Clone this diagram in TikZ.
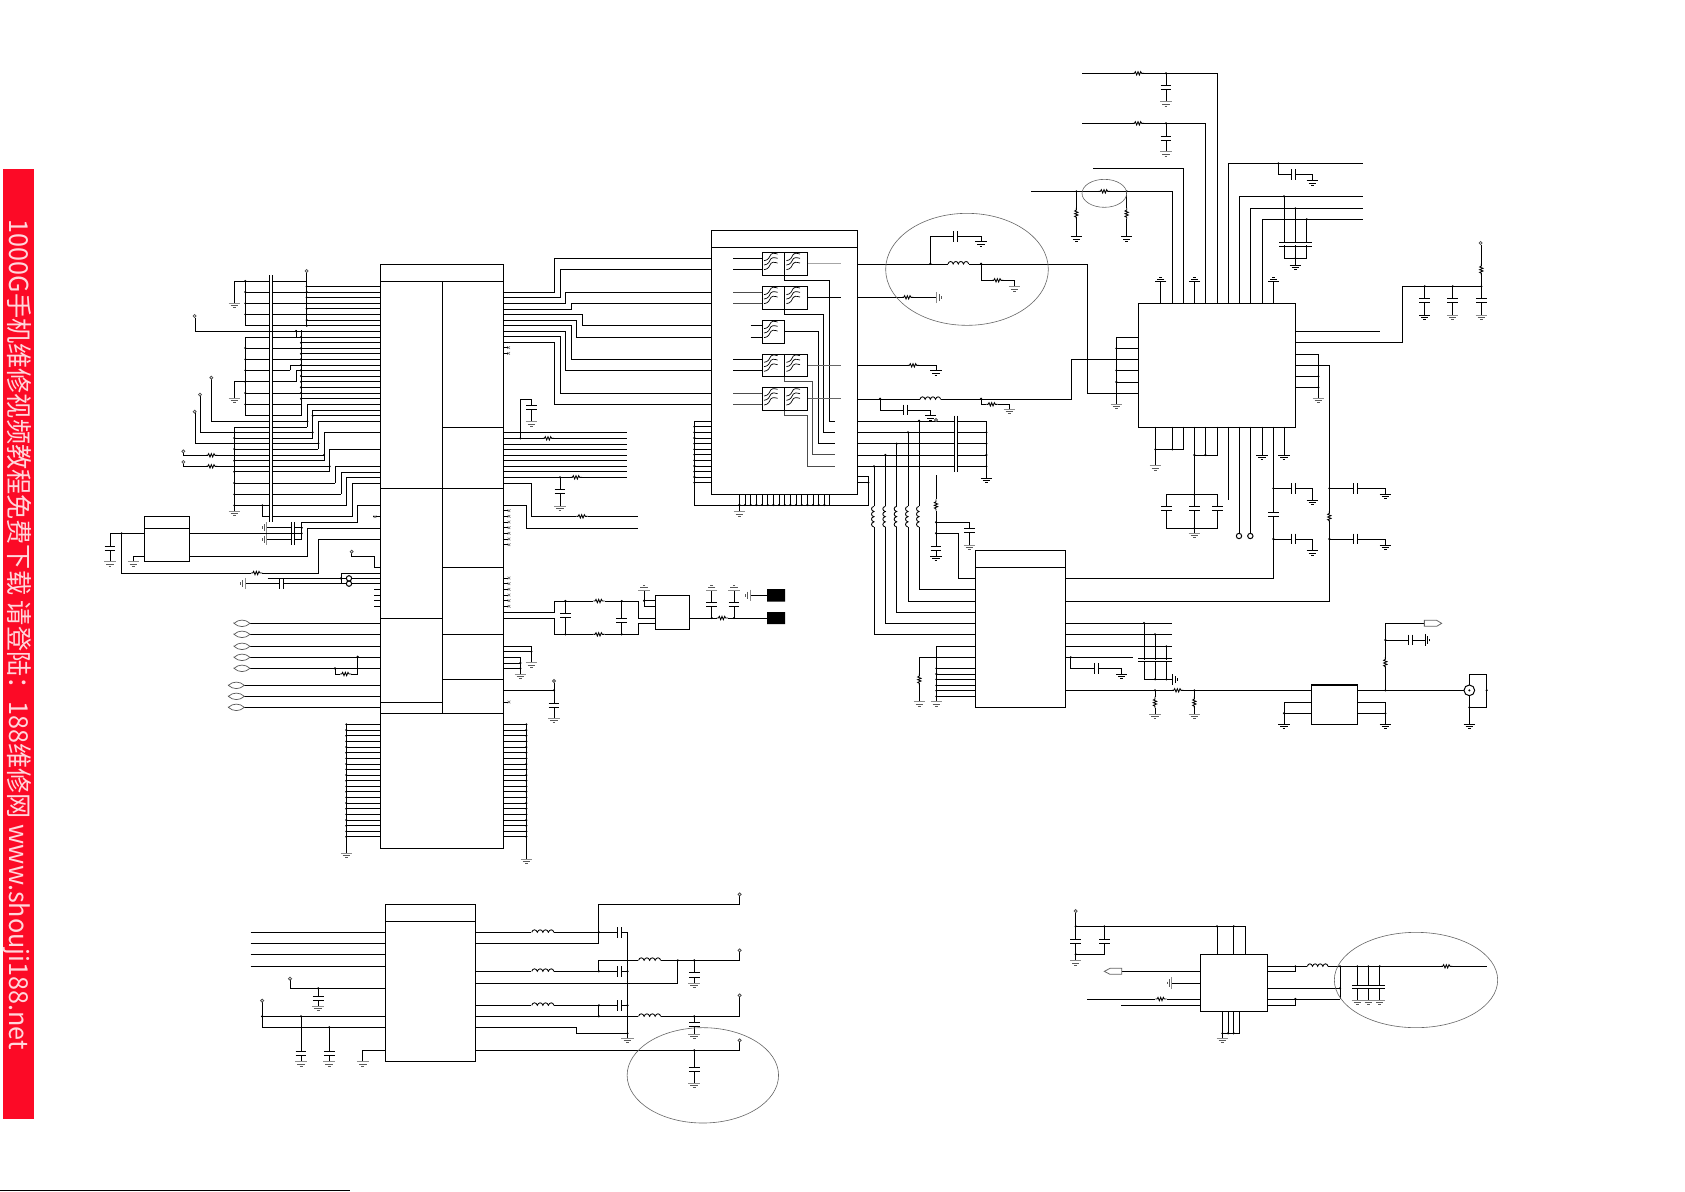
\documentclass[tikz,border=0pt]{standalone}
\usepackage{graphicx}
\usepackage{fontspec}
\newfontfamily\cjkfam{Noto Sans CJK SC}
\definecolor{bannerred}{RGB}{252,10,38}
\definecolor{bannertext}{RGB}{255,215,220}
\tikzset{
 w/.style={line width=1pt,black},
 thinw/.style={line width=0.85pt,black},
 zm/.style 2 args={shift={(#1,#2)},scale=0.33333},
 chip/.style={draw,line width=1pt,fill=white,inner sep=0pt,outer sep=0pt,anchor=north west},
 halo/.style={line width=0.6pt,black!60}
}
% all component macros are sized in the 3x units of the scopes
\newcommand\Gd[3][0]{\draw[w,shift={(#2,#3)},rotate=#1] (-17,0)--(17,0) (-11,7)--(11,7) (-4,13)--(4,13);}
\newcommand\Gy[3][0]{\draw[line width=1pt,shift={(#2,#3)},rotate=#1,black!45] (-17,0)--(17,0);
 \draw[line width=0.9pt,shift={(#2,#3)},rotate=#1,black!65] (-11,7)--(11,7) (-4,13)--(4,13);}
\newcommand\Rs[3][0]{\fill[white,shift={(#2,#3)},rotate=#1] (-17,-6) rectangle (17,6);
 \draw[thinw,shift={(#2,#3)},rotate=#1] (-17,0)--(-12,0)--(-9,-5)--(-5,5)--(-1,-5)--(3,5)--(7,-5)--(10,0)--(17,0);}
\newcommand\Ld[3][0]{\fill[white,shift={(#2,#3)},rotate=#1] (-32,-9) rectangle (32,2);
 \draw[thinw,shift={(#2,#3)},rotate=#1] (-31,0) .. controls (-29,-10) and (-18,-10) .. (-15.5,0) .. controls (-13,-10) and (-2,-10) .. (0,0) .. controls (2,-10) and (13,-10) .. (15.5,0) .. controls (18,-10) and (29,-10) .. (31,0);}
\newcommand\Cp[3][0]{\fill[white,shift={(#2,#3)},rotate=#1] (-5.5,-4) rectangle (5.5,4);
 \draw[w,shift={(#2,#3)},rotate=#1] (-6,-16)--(-6,16) (6,-16)--(6,16);}
\newcommand\Dt[2]{\fill (#1,#2) circle[radius=3.5];}
\newcommand\Pc[2]{\draw[line width=0.8pt,black!70,fill=white] (#1,#2) circle[radius=4.5];}
\newcommand\Xm[2]{\draw[w] (#1,#2)--++(14,0);\draw[line width=0.5pt,black!60] (#1+12,#2-4)--++(8,8) (#1+12,#2+4)--++(8,-8);}
\newcommand\Bw[3]{\draw[w] (#1,#2)--(508,#2) (517,#2)--(#3,#2);}
\newcommand\Ov[2]{\draw[line width=0.7pt,black!65] (#1-24,#2) .. controls (#1-10,#2-13) and (#1+10,#2-13) .. (#1+24,#2) .. controls (#1+10,#2+13) and (#1-10,#2+13) .. cycle;}
\newcommand\Fb[2]{\begin{scope}[shift={(#1,#2)}]
 \draw[w,fill=white] (0,0) rectangle (67,68);
 \foreach \d in {0,13,27}{\draw[line width=0.7pt] (5,25+\d) .. controls (18,24+\d) and (22,14+\d) .. (26,6+\d) .. controls (28,2+\d) and (34,2+\d) .. (46,5+\d);}
 \end{scope}}
\begin{document}
\begin{tikzpicture}[x=1pt,y=-1pt]
\fill[white] (0,0) rectangle (1685,1191);
\useasboundingbox (0,0) rectangle (1685,1191);
% banner
\fill[bannerred] (3,169) rectangle (34,1119);
\node[rotate=-90,inner sep=0pt,text=bannertext] (banner) at (17.5,635) {\resizebox{830pt}{22pt}{\cjkfam 1000G手机维修视频教程免费下载 请登陆：188维修网 www.shouji188.net}};
\draw[line width=1pt] (0,1190)--(350,1190);
% chips
\node[chip,minimum width=123.4pt,minimum height=584pt] (mainchip) at (380.3,264.3) {};
\node[chip,minimum width=45.4pt,minimum height=45.4pt] (regchip) at (144.3,516.3) {};
\node[chip,minimum width=146pt,minimum height=264pt] (filterchip) at (711.3,230.3) {};
\node[chip,minimum width=157pt,minimum height=124pt] (qfnchip) at (1138.3,303.3) {};
\node[chip,minimum width=90pt,minimum height=157pt] (vcochip) at (975.3,550.3) {};
\node[chip,minimum width=90.4pt,minimum height=157pt] (pmchip) at (385.4,904.3) {};
\node[chip,minimum width=67pt,minimum height=56.7pt] (ldochip) at (1200.3,954.3) {};
\node[chip,minimum width=34.4pt,minimum height=34pt] (balunchip) at (655.3,595.3) {};
\node[chip,line width=1.5pt,minimum width=45.6pt,minimum height=39.3pt] (pachip) at (1311.7,685) {};
\draw[w] (380.3,281.3)--(503.7,281.3) (442.3,281.3)--(442.3,713.3)
 (442.3,427.3)--(503.7,427.3) (380.3,488.7)--(503.7,488.7) (442.3,567.3)--(503.7,567.3)
 (380.3,618.3)--(442.3,618.3) (442.3,634.3)--(503.7,634.3) (442.3,679.3)--(503.7,679.3)
 (380.3,702.3)--(442.3,702.3) (380.3,713.3)--(503.7,713.3);
\draw[w] (144.3,528.3)--(189.7,528.3) (711.3,247.3)--(857.3,247.3) (975.3,567.3)--(1065.3,567.3) (385.4,921.3)--(475.8,921.3);
% ---------------- left side of main chip
\begin{scope}[zm={100}{250}]
 \foreach \y in {109,126,142,160,176,193,210,227}{\draw[w] (620,\y)--(841,\y);\Dt{620}{\y}}
 \foreach \y in {93,126,160,193,226}{\Bw{436}{\y}{620}}
 \foreach \y in {93,126,160,193}{\Dt{436}{\y}}
 \draw[w] (403,160)--(403,93)--(436,93) (436,93)--(436,226) (620,67)--(620,227);
 \Pc{620}{63}\Gy{403}{160}
 \draw[w] (508,75)--(508,815) (517,75)--(517,815);
 \draw[w] (285,203)--(285,244)--(841,244) (588,241)--(588,261); \Dt{588}{243}\Pc{284}{198}
 \draw[w] (436,261)--(436,497) (603,241)--(603,497);
 \foreach \y in {261,294,328,429,463,497}{\Bw{436}{\y}{603}}
 \Bw{436}{361}{571}\draw[w] (571,361)--(571,345)--(603,345);
 \Bw{436}{395}{588}\draw[w] (588,395)--(588,361)--(603,361);
 \foreach \y in {294,328,361,395,429,463}{\Dt{436}{\y}}
 \foreach \y in {261,278,295,311,328,345,361,378,395,412,429,446}{\draw[w] (603,\y)--(841,\y);\Dt{603}{\y}}
 \draw[w] (403,445)--(403,395)--(436,395); \Gy{403}{445}
 \draw[w] (333,388)--(333,514)--(508,514) (517,514)--(622,514); \Pc{334}{383}\Dt{622}{514}
 \draw[w] (841,463)--(622,463)--(622,531); \Bw{403}{531}{622}
 \draw[w] (841,480)--(638,480)--(638,564) (638,497)--(841,497); \Bw{403}{564}{638}\Dt{638}{497}\Dt{638}{547}
 \draw[w] (841,514)--(655,514)--(655,597); \Bw{403}{597}{655}\Dt{655}{580}
 \draw[w] (301,439)--(301,547)--(508,547) (517,547)--(638,547); \Pc{300}{434}
 \draw[w] (285,490)--(285,580)--(508,580) (517,580)--(655,580); \Pc{284}{485}
 \draw[w] (841,547)--(672,547)--(672,632); \Bw{403}{632}{672}\Dt{672}{615}
 \draw[w] (250,609)--(250,616)--(508,616) (517,616)--(672,616); \Pc{250}{604}\Rs{335}{616}
 \draw[w] (841,598)--(689,598)--(689,665); \Bw{403}{665}{689}\Dt{689}{649}
 \draw[w] (250,641)--(250,649)--(508,649) (517,649)--(689,649); \Pc{250}{636}\Rs{335}{649}
 \draw[w] (841,649)--(706,649)--(706,699); \Bw{403}{699}{706}
 \draw[w] (841,666)--(723,666)--(723,733); \Bw{403}{733}{723}
 \draw[w] (841,682)--(740,682)--(740,766); \Bw{403}{766}{740}
 \draw[w] (841,699)--(757,699)--(757,800) (487,766)--(487,800)--(508,800) (517,800)--(757,800); \Dt{487}{766}
 \draw[w] (841,766)--(773,766)--(773,817)--(605,817)--(605,868);
 \draw[w] (403,531)--(403,783); \Gy{403}{783}
 \foreach \y in {564,597,632,665,699,733,766}{\Dt{403}{\y}}
 \draw[w] (820,800)--(841,800);
 \draw[line width=0.5pt,black!60] (821,796)--(829,804) (821,804)--(829,796);
 % two caps into the regulator rail
 \draw[w] (500,833)--(574,833) (582,833)--(605,833) (500,868)--(574,868) (582,868)--(605,868);
 \draw[w] (574,816)--(574,884) (582,816)--(582,884);
 \Gy[-90]{500}{833}\Gy[-90]{500}{868}
 \draw[w] (269,850)--(605,850); \Dt{605}{833}\Dt{605}{850}
 \draw[w] (841,835)--(622,835)--(622,918)--(269,918);
 \draw[w] (841,868)--(655,868)--(655,969)--(65,969)--(65,850); \Dt{65}{850}\Rs{470}{969}
 \draw[w] (30,850)--(133,850) (30,850)--(30,935); \Cp[90]{30}{894}\Gy{30}{935}
 \draw[w] (133,918)--(100,918)--(100,935); \Gy{100}{935}
 \draw[w] (755,910)--(755,918)--(824,918)--(824,952)--(841,952); \Pc{755}{905}
 \draw[w] (841,969)--(723,969)--(723,1001) (503,985)--(739,985) (435,1001)--(739,1001) (755,985)--(841,985) (755,1001)--(841,1001);
 \Cp{545}{1001}\Dt{723}{985}\Gy[-90]{435}{1001}
 \draw[w,fill=white] (747,985) circle[radius=8] (747,1001) circle[radius=8];
\end{scope}
\begin{scope}[zm={210}{570}]
 \foreach \y in {58,75,92,108}{\draw[w] (492,\y)--(511,\y);}
 \foreach \y in {160,193,229,262,295}{\draw[w] (120,\y)--(511,\y);\Ov{96}{\y}}
 \foreach \y in {346,379,412}{\draw[w] (103,\y)--(511,\y);\Ov{79}{\y}}
 \draw[w] (443,258)--(443,312)--(375,312)--(375,295); \Rs{407}{312}\Dt{443}{260}\Dt{375}{295}
 \foreach \y in {463,480,497,514,531,548,565,582,598,615,632,649,665,682,699,716,733,750,767,784,800}{
  \draw[w] (409,\y)--(511,\y) (881,\y)--(949,\y);\Dt{409}{\y}\Dt{949}{\y}}
 \draw[w] (409,463)--(409,850) (949,463)--(949,868);
 \Gy{409}{850}\Gy{949}{868}
\end{scope}
% ---------------- right side of main chip
\begin{scope}[zm={495}{245}]
 \draw[w] (25,142)--(178,142)--(178,40)--(649,40)
  (25,157)--(195,157)--(195,73)--(649,73)
  (25,175)--(212,175)--(212,142)--(649,142)
  (25,192)--(229,192)--(229,176)--(649,176)
  (25,208)--(262,208)--(262,241)--(649,241)
  (25,226)--(245,226)--(245,277)--(649,277)
  (25,241)--(229,241)--(229,343)--(649,343)
  (25,259)--(212,259)--(212,376)--(649,376)
  (25,274)--(195,274)--(195,445)--(649,445)
  (25,292)--(178,292)--(178,478)--(649,478);
 \Xm{25}{308}\Xm{25}{325}
\end{scope}
\begin{scope}[zm={490}{380}]
 \foreach \y in {157,175,192,208,226,241,259,274,292}{\draw[w] (41,\y)--(411,\y);}
 \draw[w] (91,175)--(91,57)--(124,57)--(124,125); \Cp[90]{124}{82}\Gy{124}{125}\Dt{91}{175}\Rs{175}{175}
 \draw[w] (210,292)--(210,378); \Cp[90]{210}{334}\Gy{210}{378}\Dt{210}{292}\Rs{259}{292}
 \draw[w] (41,309)--(124,309)--(124,409)--(445,409); \Rs{276}{409}
 \draw[w] (41,376)--(109,376)--(109,445)--(445,445);
 \foreach \y in {392,409,426,443,460,477,494,594,611,628,645,662,679}{\Xm{41}{\y}}
 \draw[w] (41,697)--(193,697)--(193,663)--(445,663)--(445,714)--(496,714)
  (41,715)--(193,715)--(193,763)--(445,763)--(445,730)--(496,730)
  (226,663)--(226,763) (395,663)--(395,763);
 \Rs{327}{663}\Rs{327}{763}\Cp[90]{226}{705}\Cp[90]{395}{722}
 \Dt{226}{663}\Dt{226}{763}\Dt{395}{663}\Dt{395}{763}
 \draw[w] (462,630)--(462,680)--(496,680) (462,662)--(496,662); \Dt{462}{662}\Gy[180]{462}{630}
 \draw[w] (599,714)--(831,714) (665,630)--(665,714) (732,630)--(732,714);
 \Rs{697}{714}\Cp[90]{665}{672}\Cp[90]{732}{672}\Dt{665}{714}\Dt{732}{714}\Gy[180]{665}{630}\Gy[180]{732}{630}
 \fill (831,627) rectangle (885,665) (831,696) rectangle (885,732);
 \draw[w] (780,646)--(831,646); \Gy[-90]{780}{646}
 \draw[w] (41,798)--(124,798)--(124,848) (41,815)--(124,815); \Dt{124}{815}\Gy{124}{848}
 \draw[w] (41,832)--(91,832)--(91,882) (41,849)--(91,849) (41,865)--(91,865); \Dt{91}{849}\Dt{91}{865}\Gy{91}{882}
 \draw[w] (41,931)--(192,931) (192,908)--(192,1015); \Pc{192}{903}\Dt{192}{931}\Cp[90]{192}{975}\Gy{192}{1015}
 \Xm{41}{966}
\end{scope}
% ---------------- filter chip
\begin{scope}[zm={680}{210}]
 \foreach \y in {145,178}{\draw[w] (160,\y)--(247,\y);}
 \foreach \y in {246,280}{\draw[w,black!70] (160,\y)--(247,\y);}
 \foreach \y in {346,381}{\draw[w] (212,\y)--(247,\y);}
 \foreach \y in {448,481}{\draw[w] (160,\y)--(247,\y);}
 \foreach \y in {549,582}{\draw[w,black!70] (160,\y)--(247,\y);}
 \draw[w] (314,196)--(314,212)--(448,212)--(448,633)--(465,633)
  (314,298)--(314,314)--(431,314)--(431,667)--(465,667)
  (314,364)--(414,364)--(414,700)--(465,700);
 \draw[w,black!70] (314,500)--(314,515)--(397,515)--(397,734)--(465,734)
  (314,601)--(314,616)--(381,616)--(381,768)--(465,768);
 \draw[line width=1pt,black!35] (383,161)--(483,161);
 \draw[w] (383,262)--(483,262);
 \draw[line width=1pt,black!60] (383,465)--(483,465) (383,566)--(483,566);
 \Fb{247}{127}\Fb{314}{127}\Fb{247}{229}\Fb{314}{229}\Fb{247}{331}\Fb{247}{432}\Fb{314}{432}\Fb{247}{533}\Fb{314}{533}
 % right side
 \draw[w] (532,162)--(1223,162)--(1223,550)--(1375,550);
 \Ld{835}{162}\Dt{751}{161}\Dt{903}{161}
 \draw[w] (751,161)--(751,79)--(903,79)--(903,95); \Cp{827}{79}\Gd{903}{95}
 \draw[w] (903,161)--(903,211)--(1003,211)--(1003,230); \Rs{953}{211}\Gy{1003}{230}
 \draw[w] (532,262)--(770,262); \Rs{683}{262}\Gy[90]{770}{262}
 \draw[w] (532,466)--(768,466)--(768,482); \Rs{700}{466}\Gd{768}{482}
 \draw[w] (532,568)--(1173,568)--(1173,448)--(1375,448); \Ld{751}{568}\Dt{600}{566}\Dt{903}{566}
 \draw[w] (600,566)--(600,600)--(752,600)--(752,617); \Cp{676}{600}\Gd{752}{617}
 \draw[w] (903,566)--(903,583)--(988,583)--(988,598); \Rs{936}{583}\Gy{988}{598}
 \foreach \y in {634,667,701,735,769}{\draw[w] (532,\y)--(822,\y) (833,\y)--(919,\y);}
 \draw[w] (822,617)--(822,785) (833,617)--(833,785) (919,634)--(919,805); \Gd{919}{805}
 \foreach \y in {667,701,735,769}{\Dt{919}{\y}}
 \draw[w] (717,632)--(717,1138)--(886,1138) (684,667)--(684,1174)--(886,1174) (650,701)--(650,1207)--(886,1207)
  (616,735)--(616,1240)--(886,1240) (582,769)--(582,1273)--(886,1273);
 \foreach \x in {717,684,650,616,582}{\Ld[90]{\x}{920}}
 \Dt{717}{632}\Dt{684}{667}\Dt{650}{701}\Dt{616}{735}\Dt{582}{769}
 \draw[w] (94,633)--(43,633)--(43,885)--(565,885)--(565,800)--(532,800) (532,818)--(565,818); \Dt{565}{818}
 \foreach \y in {650,667,684,701,718,734,751,768,785,801,818}{\draw[w] (43,\y)--(94,\y);\Dt{43}{\y}}
 \foreach \x in {195,212,229,246,263,280,297,314,331,348,365,382,399,416,433}{\Dt{\x}{885}\draw[w] (\x,853)--(\x,885);}
 \draw[w] (448,853)--(448,885) (178,853)--(178,905); \Dt{178}{885}\Gy{178}{905}
 \draw[halo] (861,178) ellipse[x radius=244,y radius=168];
\end{scope}
% ---------------- QFN chip top
\begin{scope}[zm={1020}{50}]
 \draw[w] (186,70)--(592,70)--(592,760) (438,68)--(438,155); \Rs{355}{70}\Dt{438}{70}\Cp[90]{438}{111}\Gy{438}{155}
 \draw[w] (186,220)--(556,220)--(556,760) (438,220)--(438,305); \Rs{355}{220}\Dt{438}{220}\Cp[90]{438}{264}\Gy{438}{305}
 \draw[w] (219,355)--(490,355)--(490,760);
 \draw[w] (33,424)--(457,424)--(457,760) (169,424)--(169,560) (320,424)--(320,560);
 \Rs{253}{424}\Dt{169}{424}\Dt{320}{424}\Rs[90]{169}{490}\Rs[90]{320}{490}\Gd{169}{560}\Gd{320}{560}
 \draw[halo] (253,430) ellipse[x radius=67,y radius=42];
 \foreach \x in {422,523,760}{\draw[w] (\x,760)--(\x,695);\Gd[180]{\x}{695}}
 \draw[w] (625,760)--(625,340)--(1028,340) (775,340)--(775,373)--(877,373)--(877,392); \Dt{775}{340}\Cp{819}{373}\Gd{877}{392}
 \draw[w] (658,760)--(658,439)--(1028,439) (691,760)--(691,475)--(1028,475) (727,760)--(727,508)--(1028,508);
 \draw[w] (792,439)--(792,625)--(860,625)--(860,507) (826,475)--(826,645);
 \fill[white] (780,579) rectangle (872,586);
 \draw[w] (777,576)--(875,576) (777,589)--(875,589);
 \Dt{792}{439}\Dt{826}{475}\Dt{860}{508}\Dt{826}{625}\Gd{826}{645}
 \draw[w] (826,844)--(1080,844) (826,877)--(1147,877)--(1147,709)--(1384,709)--(1384,585) (1214,709)--(1214,795) (1298,709)--(1298,795) (1384,709)--(1384,795);
 \Dt{1214}{709}\Dt{1298}{709}\Dt{1384}{709}\Cp[90]{1214}{751}\Cp[90]{1298}{751}\Cp[90]{1384}{751}
 \Gd{1214}{795}\Gy{1298}{795}\Gy{1384}{795}\Rs[90]{1384}{658}\Pc{1382}{579}
 \draw[w] (826,912)--(895,912)--(895,1045) (826,946)--(929,946)--(929,1110) (826,979)--(895,979) (826,1012)--(895,1012);
 \Dt{895}{979}\Dt{895}{1012}\Gy{895}{1045}
 \draw[w] (289,862)--(355,862) (289,862)--(289,1063) (289,895)--(355,895) (289,961)--(355,961) (289,996)--(355,996);
 \Dt{289}{895}\Dt{289}{961}\Dt{289}{996}\Gy{289}{1063}
\end{scope}
% ---------------- QFN chip bottom, PA, antenna
\begin{scope}[zm={1080}{420}]
 \draw[w] (226,20)--(226,137) (277,20)--(277,88) (310,20)--(310,88)--(226,88); \Dt{226}{88}\Dt{277}{88}\Gy{226}{137}
 \draw[w] (343,20)--(343,340) (376,20)--(376,105) (412,20)--(412,105)--(343,105);
 \Dt{343}{105}\Dt{376}{105}\Dt{343}{224}\Dt{343}{325}
 \draw[w] (259,224) rectangle (412,325);
 \Cp[90]{259}{265}\Cp[90]{343}{265}\Cp[90]{412}{265}\Gy{343}{340}
 \draw[w] (445,20)--(445,240) (478,20)--(478,340) (512,20)--(512,340);
 \draw[w,fill=white] (477,348) circle[radius=8] (511,348) circle[radius=8];
 \draw[w] (546,20)--(546,105) (612,20)--(612,105); \Gd{546}{105}\Gd{612}{105}
 \draw[w] (580,20)--(580,475)--(-45,475) (748,0)--(748,544)--(-45,544);
 \draw[w] (580,205)--(697,205)--(697,240) (580,357)--(697,357)--(697,392);
 \Cp[90]{580}{282}\Dt{580}{205}\Dt{580}{357}\Cp{640}{205}\Cp{640}{357}\Gd{697}{240}\Gd{697}{392}
 \draw[w] (748,205)--(916,205)--(916,223) (748,357)--(916,357)--(916,375);
 \Rs[90]{748}{290}\Dt{748}{205}\Dt{748}{357}\Cp{825}{205}\Cp{825}{357}\Gd{916}{223}\Gd{916}{375}
 \draw[w] (-45,609)--(275,609) (-45,643)--(275,643) (-45,679)--(275,679);
 \draw[w] (192,609)--(192,778)--(278,778) (225,643)--(225,778) (259,679)--(259,778);
 \fill[white] (180,719) rectangle (270,721);
 \draw[w] (175,716)--(275,716) (175,724)--(275,724);
 \Dt{192}{609}\Dt{225}{643}\Dt{259}{679}\Dt{225}{778}\Dt{259}{778}\Gd[90]{278}{778}
 \draw[w] (-45,811)--(695,811) (225,811)--(225,883) (343,811)--(343,883);
 \Rs{293}{811}\Dt{225}{811}\Dt{343}{811}\Rs[90]{225}{847}\Rs[90]{343}{847}\Gy{225}{883}\Gy{343}{883}
 \draw[w] (695,848)--(612,848)--(612,912) (695,880)--(612,880) (832,848)--(916,848)--(916,912) (832,880)--(916,880);
 \Dt{612}{880}\Dt{916}{880}\Gd{612}{912}\Gd{916}{912}
 \draw[w] (832,811)--(1152,811) (916,811)--(916,610)--(1033,610) (916,660)--(1035,660);
 \Dt{916}{811}\Dt{916}{660}\Rs[90]{916}{728}\Cp{992}{660}\Gd[90]{1035}{660}
 \draw[line width=0.8pt,black!60,fill=white] (1033,601)--(1070,601)--(1085,610)--(1070,619)--(1033,619)--cycle;
 \draw[w] (1168,795)--(1168,763)--(1220,763)--(1220,862)--(1168,862) (1168,827)--(1168,912);
 \draw[w] (1168,811) circle[radius=16]; \Dt{1168}{811}\Dt{1168}{862}\Dt{1220}{811}\Gd{1168}{912}
\end{scope}
% ---------------- VCO chip
\begin{scope}[zm={860}{480}]
 \draw[w] (228,-15)--(228,228) (228,127)--(328,127)--(328,195) (228,160)--(295,160)--(295,295)--(346,295);
 \Rs[90]{228}{75}\Dt{228}{127}\Dt{228}{160}\Cp[90]{328}{152}\Gy{328}{195}\Cp[90]{228}{205}\Gd{228}{228}
 \draw[w] (229,498)--(346,498) (229,498)--(229,665) (178,532)--(346,532) (178,532)--(178,665);
 \Rs[90]{178}{598}\Gy{178}{665}\Gy{229}{665}
 \foreach \y in {565,582,598,616,632,649}{\draw[w] (229,\y)--(346,\y);\Dt{229}{\y}}
 \draw[w] (616,532)--(818,532) (632,532)--(632,565)--(785,565)--(785,582); \Dt{632}{532}\Cp{710}{565}\Gd{785}{582}
 \draw[w] (616,430)--(640,430) (616,464)--(640,464) (616,498)--(640,498) (616,631)--(640,631) (616,295)--(640,295) (616,364)--(640,364);
\end{scope}
\begin{scope}[zm={860}{420}]
 \Pc{228}{0}
\end{scope}
% ---------------- power chip lower left (the crop of this part was read at 2.8x across)
\begin{scope}[zm={230}{880},x=1.0714pt]
 \foreach \y in {157,190,223,259}{\draw[w] (58,\y)--(435,\y);}
 \draw[w] (168,301)--(168,325)--(435,325) (247,325)--(247,378); \Pc{168}{296}\Dt{247}{325}\Cp[90]{247}{355}\Gy{247}{378}
 \draw[w] (90,367)--(90,442)--(435,442) (88,409)--(435,409) (199,409)--(199,545) (278,442)--(278,545);
 \Pc{90}{362}\Dt{90}{409}\Dt{199}{409}\Dt{278}{442}\Cp[90]{199}{520}\Cp[90]{278}{520}\Gy{199}{545}\Gy{278}{545}
 \draw[w] (435,511)--(372,511)--(372,545); \Gy{372}{545}
 \draw[w] (688,157)--(1113,157)--(1113,475) (688,190)--(1033,190)--(1033,73)--(1427,73)--(1427,48);
 \Ld{876}{157}\Dt{1033}{157}\Cp{1090}{157}\Pc{1427}{43}\Gy{1113}{475}
 \draw[w] (688,274)--(1113,274) (1033,274)--(1033,241)--(1427,241)--(1427,216) (688,310)--(1254,310)--(1254,241) (1300,241)--(1300,310);
 \Ld{876}{274}\Cp{1090}{274}\Ld{1175}{241}\Dt{1033}{274}\Dt{1113}{274}\Dt{1254}{241}\Dt{1300}{241}\Pc{1427}{211}\Cp[90]{1300}{285}\Gy{1300}{310}
 \draw[w] (688,376)--(1113,376) (1033,376)--(1033,409) (688,409)--(1427,409)--(1427,351) (1300,409)--(1300,462);
 \Ld{876}{376}\Cp{1090}{376}\Ld{1175}{409}\Dt{1033}{376}\Dt{1033}{409}\Dt{1113}{376}\Dt{1300}{409}\Pc{1427}{346}\Cp[90]{1300}{433}\Gy{1300}{462}
 \draw[w] (688,442)--(970,442)--(970,460)--(1113,460); \Dt{1113}{460}
 \draw[w] (688,511)--(1427,511)--(1427,486) (1300,511)--(1300,610); \Pc{1427}{481}\Dt{1300}{511}\Cp[90]{1300}{568}\Gy{1300}{610}
 \draw[halo] (1324,586) ellipse[x radius=212,y radius=143];
\end{scope}
% ---------------- LDO lower right
\begin{scope}[zm={1060}{900}]
 \draw[w] (47,38)--(47,182) (47,79)--(556,79)--(556,163) (471,79)--(471,163) (521,79)--(521,163) (133,79)--(133,163)--(47,163);
 \Pc{47}{33}\Dt{47}{79}\Dt{133}{79}\Dt{471}{79}\Dt{521}{79}\Dt{47}{163}\Cp[90]{47}{123}\Cp[90]{133}{123}\Gy{47}{182}
 \draw[w] (185,214)--(421,214) (335,249)--(421,249) (82,297)--(421,297) (183,316)--(421,316);
 \draw[line width=0.8pt,black!60,fill=white] (185,205)--(150,205)--(133,214)--(150,223)--(185,223)--cycle;
 \Gy[-90]{335}{249}\Rs{303}{297}
 \draw[w] (487,333)--(487,415) (504,333)--(504,400) (521,333)--(521,400) (539,333)--(539,400)--(487,400);
 \Dt{487}{400}\Dt{504}{400}\Dt{521}{400}\Gy{487}{415}
 \draw[w] (622,199)--(1280,199) (622,215)--(706,215)--(706,199) (840,199)--(840,297) (622,265)--(840,265) (622,297)--(840,297) (622,316)--(706,316)--(706,297);
 \Ld{773}{199}\Rs{1160}{199}\Dt{706}{199}\Dt{840}{199}\Dt{892}{199}\Dt{925}{199}\Dt{959}{199}\Dt{840}{265}\Dt{706}{297}
 \draw[w] (892,199)--(892,300) (925,199)--(925,300) (959,199)--(959,300);
 \fill[white] (880,257) rectangle (972,263);
 \draw[w] (876,255)--(975,255) (876,265)--(975,265);
 \Gy{892}{300}\Gy{925}{300}\Gy{959}{300}
 \draw[halo] (1068,240) ellipse[x radius=245,y radius=143];
\end{scope}
\end{tikzpicture}
\end{document}
